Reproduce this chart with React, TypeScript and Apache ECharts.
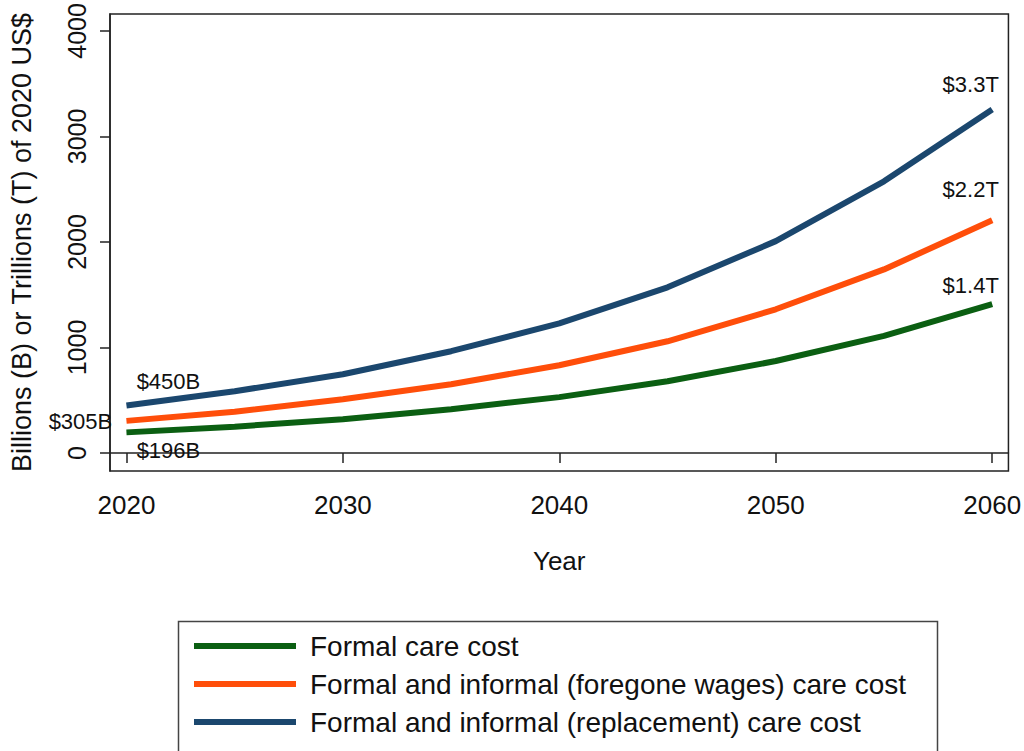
import React, { useEffect, useRef } from "react";
import * as echarts from "echarts";

const years = [2020, 2025, 2030, 2035, 2040, 2045, 2050, 2055, 2060];
const formalCost = [196, 250, 321, 416, 530, 681, 872, 1110, 1412];
const foregoneCost = [305, 392, 510, 652, 832, 1059, 1362, 1740, 2205];
const replacementCost = [450, 586, 747, 965, 1229, 1570, 2008, 2575, 3255];
const seriesNames = [
  "Formal care cost",
  "Formal and informal (foregone wages) care cost",
  "Formal and informal (replacement) care cost",
];
const startLabels = ["$196B", "$305B", "$450B"];
const endLabels = ["$1.4T", "$2.2T", "$3.3T"];
const yTicks = [0, 1000, 2000, 3000, 4000];
const xTicks = [2020, 2030, 2040, 2050, 2060];
const colors = ["#0b5f12", "#ff4e0a", "#1b476e"];

const FONT = "Liberation Sans, Arial, sans-serif";

export default function App() {
  const ref = useRef<HTMLDivElement>(null);
  useEffect(() => {
    if (!ref.current) return;
    const chart = echarts.init(ref.current, undefined, { renderer: "svg" });
    const all = [formalCost, foregoneCost, replacementCost];
    const startOffsets = [
      [42, 18],
      [-46, 1],
      [42, -24],
    ];
    const endOffsets = [
      [-21.5, -19],
      [-21.5, -31],
      [-21.5, -25],
    ];
    const labelBase = {
      show: true,
      align: "center",
      verticalAlign: "middle",
      fontFamily: FONT,
      fontSize: 22,
      color: "#111",
    };
    const series = all.map((vals, s) => ({
      type: "line",
      name: seriesNames[s],
      showSymbol: true,
      symbol: "circle",
      symbolSize: 0,
      lineStyle: { width: 6, color: colors[s] },
      itemStyle: { color: colors[s] },
      z: 2 + s,
      data: vals.map((v, i) => {
        if (i === 0) {
          return {
            value: [years[i], v],
            label: { ...labelBase, formatter: startLabels[s], position: startOffsets[s] },
          };
        }
        if (i === vals.length - 1) {
          return {
            value: [years[i], v],
            label: { ...labelBase, formatter: endLabels[s], position: endOffsets[s] },
          };
        }
        return [years[i], v];
      }),
    }));
    chart.setOption({
      animation: false,
      color: colors,
      grid: {
        left: 103,
        top: 14,
        right: 15,
        bottom: 280,
        show: true,
        borderColor: "#222",
        borderWidth: 1.5,
        containLabel: false,
      },
      legend: {
        show: true,
        orient: "vertical",
        left: 189,
        top: 627,
        itemWidth: 102,
        itemHeight: 6,
        itemGap: 10,
        icon: "rect",
        textStyle: { fontFamily: FONT, fontSize: 28, color: "#111", padding: [0, 0, 0, 9] },
        data: seriesNames,
      },
      xAxis: {
        type: "value",
        min: 2019.24,
        max: 2060.75,
        name: "Year",
        nameLocation: "middle",
        nameGap: 77,
        nameTextStyle: { fontFamily: FONT, fontSize: 26, color: "#111" },
        axisLine: { show: true, lineStyle: { color: "#222", width: 1.5 } },
        axisTick: { show: true, length: 10, lineStyle: { color: "#222", width: 1.5 }, customValues: xTicks },
        axisLabel: {
          fontFamily: FONT,
          fontSize: 26,
          color: "#111",
          margin: 21,
          customValues: xTicks,
          formatter: (v: number) => String(Math.round(v)),
        },
        splitLine: { show: false },
      },
      yAxis: {
        type: "value",
        min: -170,
        max: 4160,
        name: "Billions (B) or Trillions (T) of 2020 US$",
        nameLocation: "middle",
        nameGap: 75,
        nameTextStyle: { fontFamily: FONT, fontSize: 27, color: "#111" },
        axisLine: { show: true, lineStyle: { color: "#222", width: 1.5 } },
        axisTick: { show: true, length: 10, lineStyle: { color: "#222", width: 1.5 }, customValues: yTicks },
        axisLabel: {
          fontFamily: FONT,
          fontSize: 25,
          color: "#111",
          margin: 21,
          rotate: 90,
          customValues: yTicks,
          formatter: (v: number) => String(Math.round(v)),
        },
        splitLine: { show: false },
      },
      graphic: [
        {
          type: "rect",
          left: 176,
          top: 619,
          shape: { width: 759, height: 140 },
          style: { fill: "none", stroke: "#444", lineWidth: 1.5 },
          z: -1,
        },
      ],
      series,
    });
    return () => chart.dispose();
  }, []);
  return <div ref={ref} style={{ width: 1024, height: 751, position: "absolute", left: 0, top: 0 }} />;
}
